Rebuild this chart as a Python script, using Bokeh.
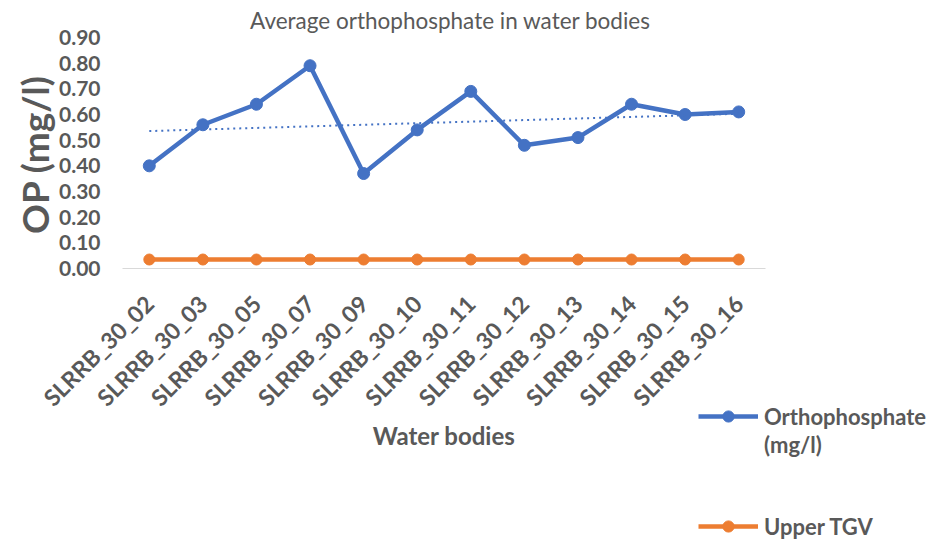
import numpy as np
from bokeh.plotting import figure
from bokeh.models import (Range1d, FixedTicker, NumeralTickFormatter,
                          Legend, LegendItem, Label)
from bokeh.embed import file_html
from bokeh.resources import INLINE
from math import pi

# ---- data ----
water_bodies = ["SLRRB_30_02", "SLRRB_30_03", "SLRRB_30_05", "SLRRB_30_07",
                "SLRRB_30_09", "SLRRB_30_10", "SLRRB_30_11", "SLRRB_30_12",
                "SLRRB_30_13", "SLRRB_30_14", "SLRRB_30_15", "SLRRB_30_16"]
orthophosphate = [0.40, 0.56, 0.64, 0.79, 0.37, 0.54, 0.69, 0.48, 0.51, 0.64, 0.60, 0.61]
upper_tgv = [0.035] * 12
y_ticks = [0.0, 0.1, 0.2, 0.3, 0.4, 0.5, 0.6, 0.7, 0.8, 0.9]

positions = list(range(len(water_bodies)))

# linear trendline of orthophosphate
slope, intercept = np.polyfit(positions, orthophosphate, 1)
trend = [slope * i + intercept for i in positions]

FONT = "Lato"
GREY = "#595959"
BLUE = "#4472C4"
ORANGE = "#ED7D31"

W, H = 930, 539
# layout of the plotting area in pixels (the whole canvas is the frame)
PLOT_LEFT, PLOT_RIGHT = 122, 765      # extent of the category axis
PLOT_TOP, PLOT_BOTTOM = 37, 268       # pixel rows of 0.9 and 0.0
n = len(water_bodies)
px_per_cat = (PLOT_RIGHT - PLOT_LEFT) / n
first_cat_px = PLOT_LEFT + px_per_cat / 2
px_per_unit = (PLOT_BOTTOM - PLOT_TOP) / 0.9

x_range = Range1d(-first_cat_px / px_per_cat, (W - first_cat_px) / px_per_cat)
y_range = Range1d(-(H - PLOT_BOTTOM) / px_per_unit, PLOT_BOTTOM / px_per_unit)

p = figure(width=W, height=H, x_range=x_range, y_range=y_range,
           output_backend="svg", toolbar_location=None, min_border=0)
p.outline_line_color = None
p.xgrid.grid_line_color = None
p.ygrid.grid_line_color = None

# y axis, fixed at the left edge of the plotting area
p.yaxis.fixed_location = (PLOT_LEFT - first_cat_px) / px_per_cat
p.yaxis.ticker = FixedTicker(ticks=y_ticks)
p.yaxis.formatter = NumeralTickFormatter(format="0.00")
p.yaxis.axis_line_color = None
p.yaxis.major_tick_line_color = None
p.yaxis.minor_tick_line_color = None
p.yaxis.major_tick_out = 0
p.yaxis.major_tick_in = 0
p.yaxis.major_label_text_font = FONT
p.yaxis.major_label_text_font_style = "bold"
p.yaxis.major_label_text_font_size = "21px"
p.yaxis.major_label_text_color = GREY
p.yaxis.major_label_standoff = 22

# x axis, fixed at y = 0
p.xaxis.fixed_location = 0
p.xaxis.bounds = ((PLOT_LEFT - first_cat_px) / px_per_cat, (PLOT_RIGHT - first_cat_px) / px_per_cat)
p.xaxis.ticker = FixedTicker(ticks=positions)
p.xaxis.major_label_overrides = {i: name for i, name in zip(positions, water_bodies)}
p.xaxis.axis_line_color = "#D9D9D9"
p.xaxis.axis_line_width = 1
p.xaxis.major_tick_line_color = None
p.xaxis.minor_tick_line_color = None
p.xaxis.major_tick_out = 0
p.xaxis.major_tick_in = 0
p.xaxis.major_label_orientation = pi / 4
p.xaxis.major_label_text_font = FONT
p.xaxis.major_label_text_font_style = "bold"
p.xaxis.major_label_text_font_size = "23px"
p.xaxis.major_label_text_color = GREY
p.xaxis.major_label_standoff = 31
p.xaxis.axis_label = "Water bodies"
p.xaxis.axis_label_text_font = FONT
p.xaxis.axis_label_text_font_style = "bold"
p.xaxis.axis_label_text_font_size = "24px"
p.xaxis.axis_label_text_color = GREY
p.xaxis.axis_label_standoff = -3

# title and y-axis label
p.add_layout(Label(x=450, y=H - 20, x_units="screen", y_units="screen",
                   text="Average orthophosphate in water bodies", text_font=FONT,
                   text_font_size="22.5px", text_color=GREY,
                   text_align="center", text_baseline="middle"))
p.add_layout(Label(x=34, y=H - 154, x_units="screen", y_units="screen",
                   text="OP (mg/l)", angle=pi / 2, text_font=FONT,
                   text_font_style="bold", text_font_size="37px", text_color=GREY,
                   text_align="center", text_baseline="middle"))

# series
op_line = p.line(positions, orthophosphate, line_color=BLUE, line_width=4.5)
op_pts = p.scatter(positions, orthophosphate, size=12, fill_color=BLUE, line_color=BLUE)
p.line(positions, trend, line_color=BLUE, line_width=2, line_dash="2 4")
tgv_line = p.line(positions, upper_tgv, line_color=ORANGE, line_width=4.5)
tgv_pts = p.scatter(positions, upper_tgv, size=11, fill_color=ORANGE, line_color=ORANGE)
# invisible renderer that only carries the second line of the first legend label
blank = p.line(x=[], y=[], line_alpha=0)


def style_legend(lg):
    lg.border_line_color = None
    lg.background_fill_alpha = 0
    lg.padding = 0
    lg.margin = 0
    lg.spacing = 0
    lg.glyph_width = 60
    lg.glyph_height = 28
    lg.label_standoff = 6
    lg.label_text_font = FONT
    lg.label_text_font_style = "bold"
    lg.label_text_font_size = "22px"
    lg.label_text_color = GREY


legend_a = Legend(items=[LegendItem(label="Orthophosphate", renderers=[op_line, op_pts]),
                         LegendItem(label="(mg/l)", renderers=[blank])],
                  location=(698, 81))
legend_b = Legend(items=[LegendItem(label="Upper TGV", renderers=[tgv_line, tgv_pts])],
                  location=(698, -1))
style_legend(legend_a)
style_legend(legend_b)
p.add_layout(legend_a, "center")
p.add_layout(legend_b, "center")

open("out.html", "w").write(file_html(p, INLINE))
